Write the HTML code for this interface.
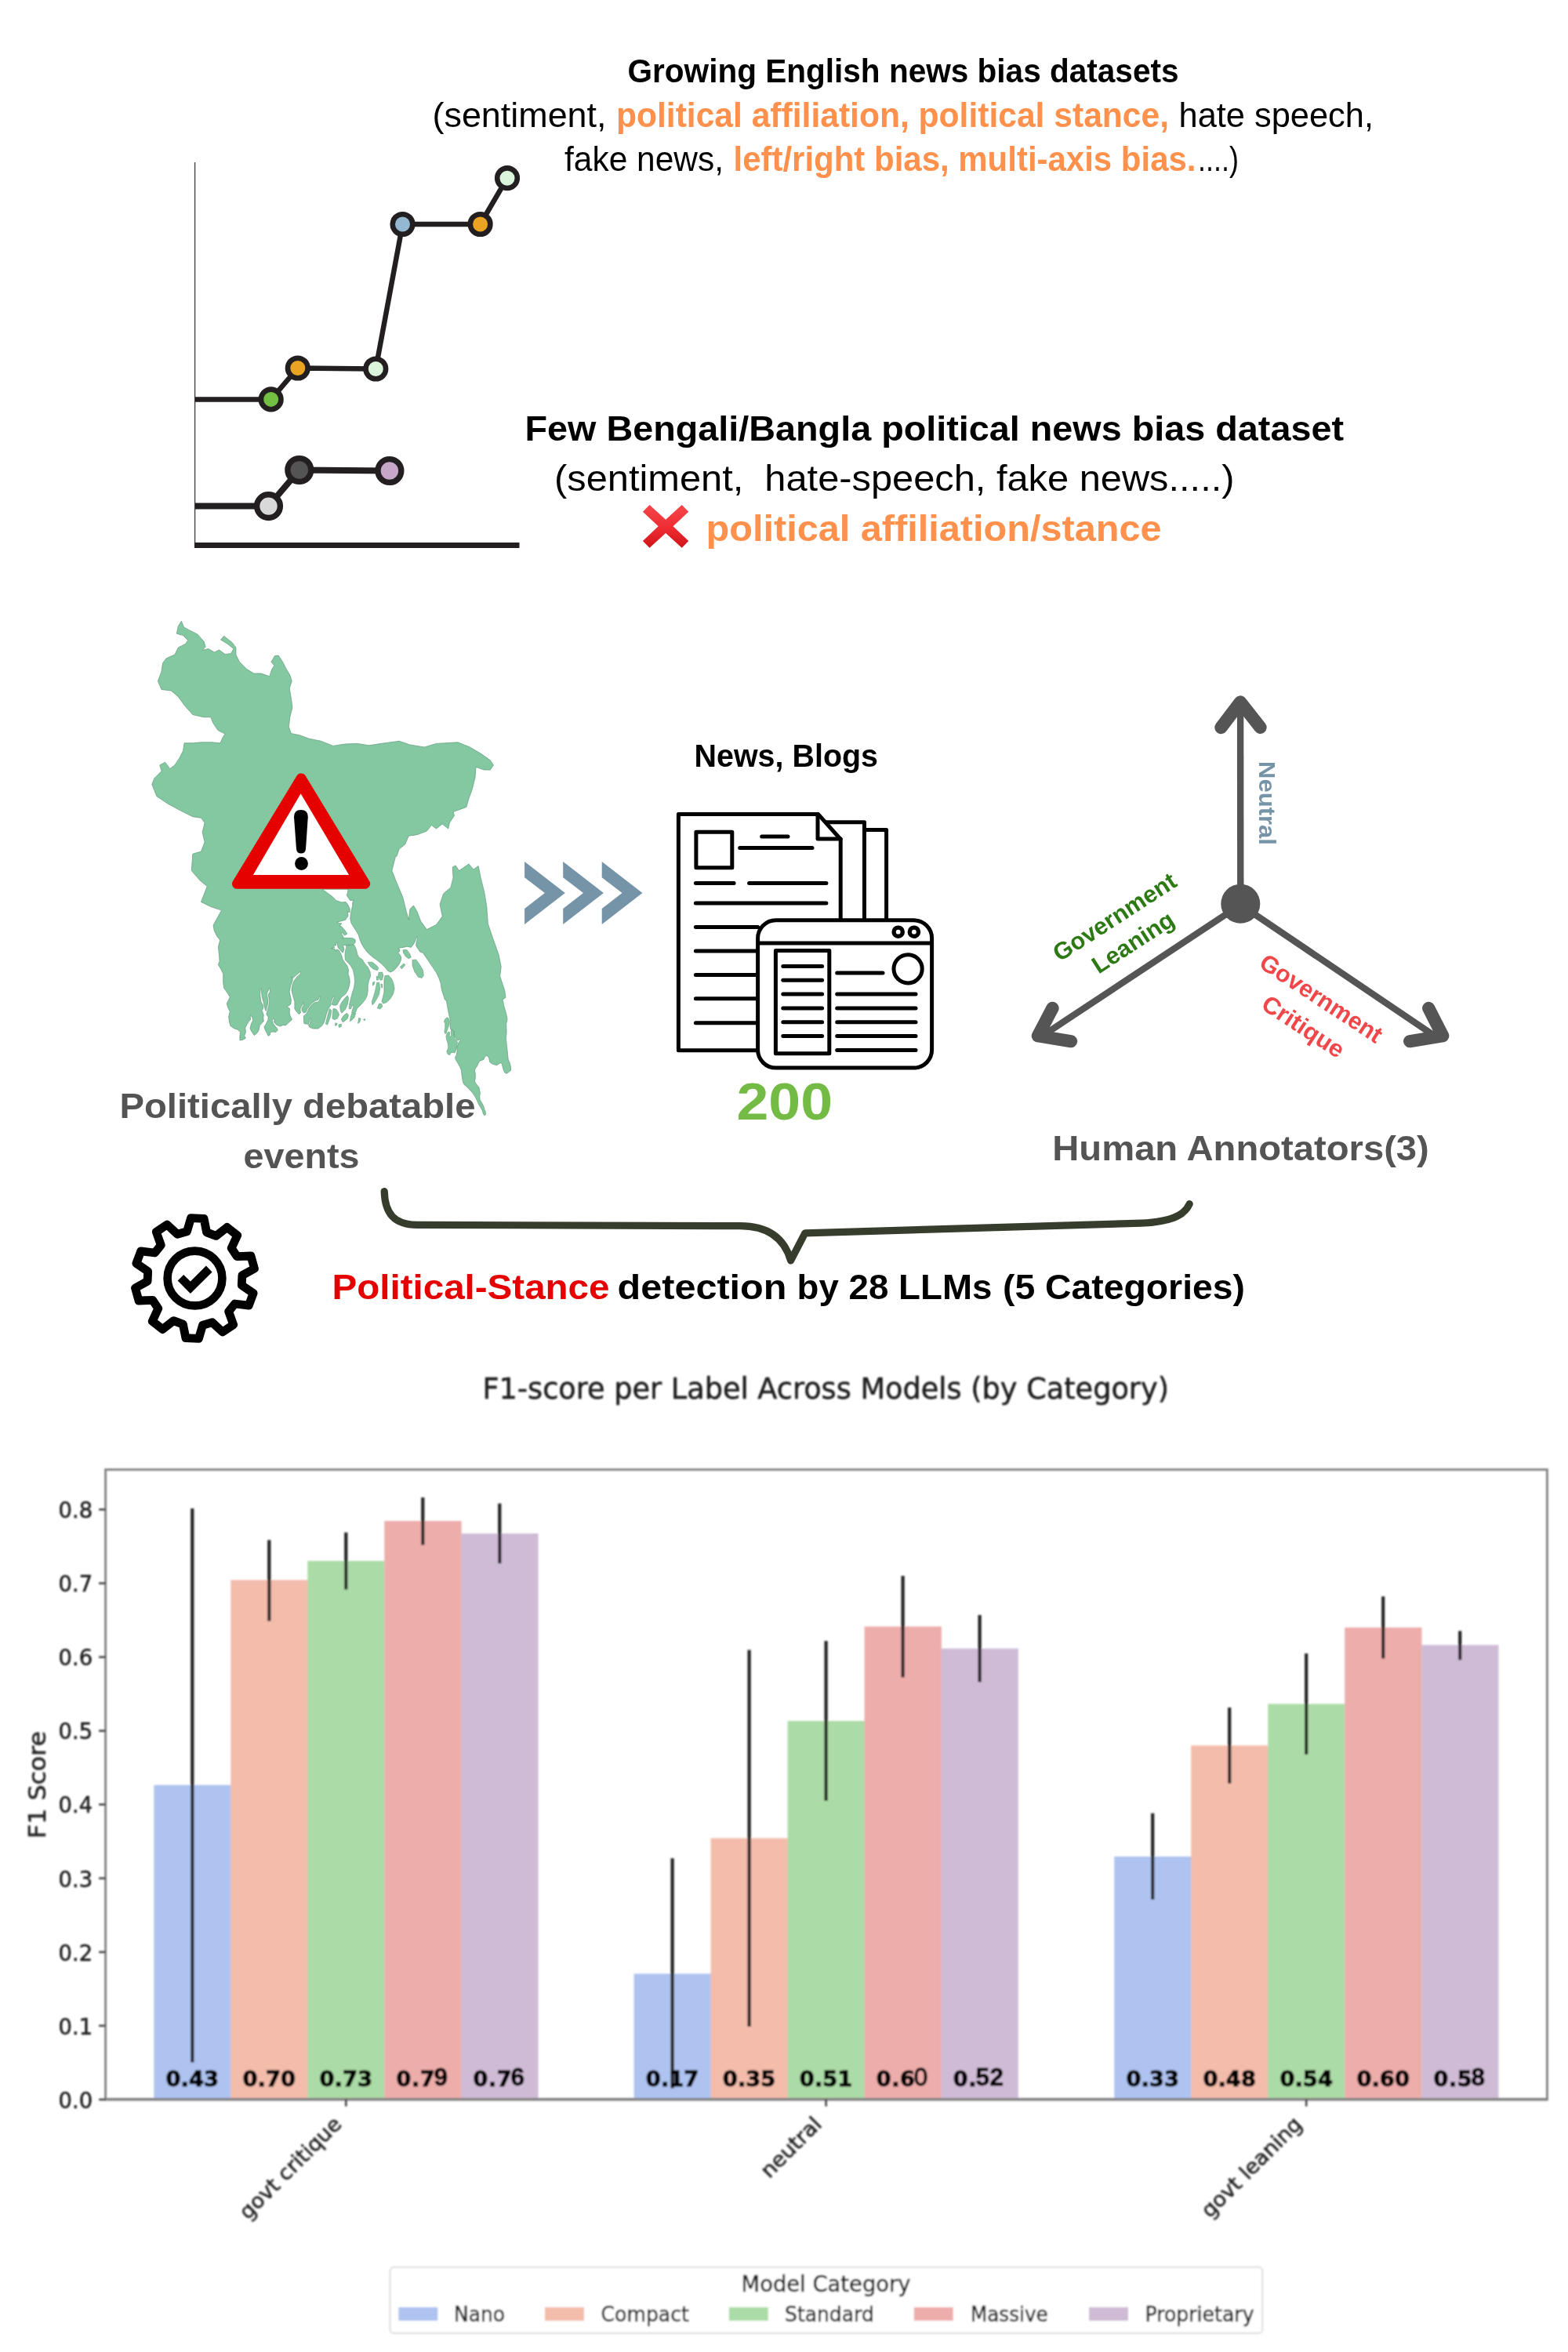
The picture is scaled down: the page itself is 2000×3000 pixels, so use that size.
<!DOCTYPE html>
<html lang="en"><head><meta charset="utf-8"><title>Political stance detection infographic</title>
<style>
html,body{margin:0;padding:0;background:#fff;}
body{width:2000px;height:3000px;overflow:hidden;}
svg{display:block;}
text{white-space:pre;}
</style></head><body>
<svg width="2000" height="3000" viewBox="0 0 2000 3000">
<rect width="2000" height="3000" fill="#ffffff"/>
<g opacity="0.999">
<g id="linechart">
<line x1="248.6" y1="207" x2="248.6" y2="698" stroke="#3a3a3a" stroke-width="1.3"/>
<line x1="248" y1="695.5" x2="662.5" y2="695.5" stroke="#231f20" stroke-width="7"/>
<polyline points="249,509.4 345.7,509.4 379.8,469.5 479.3,470.5 513.5,286 612.6,286 647,227.2" fill="none" stroke="#231f20" stroke-width="6.5" stroke-linejoin="round"/>
<circle cx="345.7" cy="509.4" r="12.8" fill="#72bf44" stroke="#231f20" stroke-width="6.6"/>
<circle cx="379.8" cy="469.5" r="12.8" fill="#eba421" stroke="#231f20" stroke-width="6.6"/>
<circle cx="479.3" cy="470.5" r="12.8" fill="#dbf5dd" stroke="#231f20" stroke-width="6.6"/>
<circle cx="513.5" cy="286" r="12.8" fill="#94b8d2" stroke="#231f20" stroke-width="6.6"/>
<circle cx="612.6" cy="286" r="12.8" fill="#eba421" stroke="#231f20" stroke-width="6.6"/>
<circle cx="647" cy="227.2" r="12.8" fill="#dbf5dd" stroke="#231f20" stroke-width="6.6"/>
<polyline points="249,645.6 342.5,645.6 381.8,599.5 496.9,600.5" fill="none" stroke="#231f20" stroke-width="8" stroke-linejoin="round"/>
<circle cx="342.5" cy="645.6" r="14.9" fill="#d9d9d9" stroke="#231f20" stroke-width="7.4"/>
<circle cx="381.8" cy="599.5" r="14.9" fill="#545454" stroke="#231f20" stroke-width="7.4"/>
<circle cx="496.9" cy="600.5" r="14.9" fill="#c6a6c9" stroke="#231f20" stroke-width="7.4"/>
</g>
<g id="toptext">
<text x="800.5" y="105" font-family='"Liberation Sans", sans-serif' font-size="42" font-weight="bold" fill="#000" text-anchor="start" textLength="703" lengthAdjust="spacingAndGlyphs" >Growing English news bias datasets</text>
<text y="161.5" font-family='"Liberation Sans", sans-serif' font-size="44" ><tspan x="551.5" font-weight="normal" fill="#000" textLength="222" lengthAdjust="spacingAndGlyphs">(sentiment,</tspan> <tspan x="786" font-weight="bold" fill="#ff914d" textLength="705" lengthAdjust="spacingAndGlyphs">political affiliation, political stance,</tspan> <tspan x="1503.5" font-weight="normal" fill="#000" textLength="248.5" lengthAdjust="spacingAndGlyphs">hate speech,</tspan></text>
<text y="217.5" font-family='"Liberation Sans", sans-serif' font-size="44" ><tspan x="720" font-weight="normal" fill="#000" textLength="203" lengthAdjust="spacingAndGlyphs">fake news,</tspan> <tspan x="935.5" font-weight="bold" fill="#ff914d" textLength="590" lengthAdjust="spacingAndGlyphs">left/right bias, multi-axis bias.</tspan><tspan x="1528" font-weight="normal" fill="#000" textLength="52" lengthAdjust="spacingAndGlyphs">....)</tspan></text>
<text x="669.5" y="562" font-family='"Liberation Sans", sans-serif' font-size="45" font-weight="bold" fill="#000" text-anchor="start" textLength="1044.5" lengthAdjust="spacingAndGlyphs" >Few Bengali/Bangla political news bias dataset</text>
<text x="707" y="626" font-family='"Liberation Sans", sans-serif' font-size="47" font-weight="normal" fill="#000" text-anchor="start" textLength="867.5" lengthAdjust="spacingAndGlyphs" >(sentiment,  hate-speech, fake news.....)</text>
<text x="900.5" y="690" font-family='"Liberation Sans", sans-serif' font-size="47" font-weight="bold" fill="#ff914d" text-anchor="start" textLength="581" lengthAdjust="spacingAndGlyphs" >political affiliation/stance</text>
<defs><linearGradient id="xg" x1="0" y1="0" x2="0" y2="1"><stop offset="0" stop-color="#f5474b"/><stop offset="0.55" stop-color="#ee2c32"/><stop offset="1" stop-color="#d01318"/></linearGradient></defs>
<g transform="translate(849.1,671.3)"><path d="M-29.2,-18.6 L-20.6,-27.4 L0,-8.6 L20.6,-27.4 L29.2,-18.6 L9.4,0 L29.2,18.6 L20.6,27.4 L0,8.6 L-20.6,27.4 L-29.2,18.6 L-9.4,0 Z" fill="url(#xg)"/></g>
</g>
<g id="map">
<path d="M231.4,792.2 L234.5,799.9 L242.8,804.5 L251.9,809.1 L260.2,818.3 L262.0,825.3 L258.1,829.6 L265.7,827.4 L273.4,832.0 L279.5,829.0 L287.1,834.5 L294.8,833.6 L297.9,827.4 L290.2,821.3 L281.6,816.1 L285.6,811.2 L296.3,819.8 L300.9,825.9 L300.9,835.1 L305.5,844.3 L314.7,853.5 L323.9,859.0 L333.1,859.0 L343.8,862.7 L346.8,853.5 L349.9,848.9 L345.9,844.3 L350.5,836.6 L355.1,836.0 L360.6,844.3 L365.2,853.5 L369.8,861.1 L372.2,868.8 L369.2,878.0 L371.3,890.2 L372.9,902.4 L369.8,914.7 L368.3,926.9 L371.3,935.5 L382.0,937.7 L394.3,942.2 L409.6,945.3 L424.9,951.4 L440.2,949.0 L455.5,948.4 L470.8,950.8 L486.1,948.4 L509.1,945.3 L522.9,949.9 L541.2,953.0 L556.5,948.4 L584.1,946.8 L599.4,953.0 L614.7,962.1 L625.4,969.8 L629.4,975.9 L625.4,982.0 L617.8,982.0 L607.0,978.4 L606.1,991.2 L602.4,1006.5 L597.9,1018.8 L594.8,1029.5 L578.0,1035.6 L579.5,1040.2 L573.4,1049.4 L571.8,1057.0 L564.2,1050.9 L556.5,1057.0 L550.4,1052.4 L544.3,1060.1 L532.0,1064.7 L521.3,1066.2 L516.7,1076.9 L509.1,1083.1 L506.0,1092.2 L504.5,1092.2 L499.9,1110.6 L506.0,1125.9 L513.7,1144.3 L518.3,1162.7 L521.3,1173.4 L522.9,1159.6 L527.4,1155.0 L532.0,1162.7 L536.6,1174.9 L544.3,1185.6 L556.5,1179.5 L564.2,1168.8 L561.1,1153.5 L565.7,1139.7 L574.9,1132.0 L578.0,1119.8 L577.3,1106.0 L581.0,1103.9 L585.6,1110.6 L597.9,1102.0 L604.0,1109.1 L610.1,1104.5 L613.2,1119.8 L617.8,1138.2 L620.8,1156.5 L622.3,1178.0 L628.5,1196.3 L636.1,1217.8 L639.2,1233.1 L637.7,1245.3 L643.8,1263.7 L644.9,1272.4 L641.1,1274.9 L642.8,1283.2 L645.7,1293.2 L647.0,1299.8 L645.7,1306.4 L646.1,1316.4 L645.3,1324.7 L646.5,1334.6 L647.4,1342.9 L648.2,1351.2 L650.3,1356.2 L651.5,1361.1 L651.5,1365.3 L648.6,1367.8 L645.7,1369.4 L643.6,1367.8 L641.6,1362.8 L640.3,1357.0 L638.7,1355.8 L636.2,1357.0 L633.7,1358.7 L630.4,1357.8 L627.1,1356.6 L624.6,1354.5 L623.7,1349.5 L622.1,1347.1 L620.0,1346.6 L617.9,1348.7 L617.1,1351.2 L614.6,1352.4 L611.7,1353.3 L610.1,1356.2 L608.8,1359.5 L606.3,1362.8 L605.5,1366.1 L606.3,1370.3 L606.3,1375.2 L605.5,1378.6 L606.3,1381.0 L608.8,1384.4 L610.9,1386.8 L611.7,1391.0 L612.5,1394.3 L611.7,1398.5 L612.1,1402.6 L614.6,1406.7 L616.7,1410.9 L618.3,1415.9 L619.6,1419.2 L619.2,1422.1 L617.5,1422.5 L616.3,1420.0 L615.0,1415.9 L613.0,1412.6 L610.5,1408.4 L608.4,1403.4 L606.3,1399.3 L603.0,1394.3 L599.3,1390.2 L595.5,1386.0 L592.2,1383.5 L590.6,1380.2 L589.7,1376.1 L588.9,1370.3 L588.5,1365.3 L586.4,1360.3 L583.1,1354.5 L581.0,1351.2 L580.6,1348.7 L582.3,1345.4 L583.1,1340.4 L582.7,1336.3 L583.9,1333.0 L585.2,1329.6 L587.3,1326.7 L586.4,1325.9 L583.9,1327.2 L581.9,1325.5 L579.8,1321.4 L579.0,1316.4 L578.1,1314.3 L574.8,1313.1 L574.0,1309.7 L574.8,1303.1 L573.2,1296.5 L571.5,1288.2 L569.4,1276.6 L570.0,1276.7 L567.4,1275.0 L565.6,1269.2 L563.3,1262.3 L562.2,1254.3 L559.9,1247.4 L556.5,1240.5 L551.9,1233.6 L547.3,1226.8 L542.7,1219.9 L539.2,1215.3 L535.8,1214.1 L533.5,1210.7 L530.6,1206.1 L531.2,1201.5 L532.9,1196.3 L532.3,1194.6 L530.6,1198.1 L527.8,1203.8 L524.3,1208.4 L519.7,1207.2 L514.0,1208.4 L508.8,1209.0 L510.0,1213.0 L507.7,1215.3 L510.0,1217.6 L511.7,1221.0 L511.1,1225.6 L508.8,1230.2 L505.4,1234.8 L501.9,1238.2 L497.9,1240.0 L494.5,1238.2 L491.0,1233.6 L486.4,1229.1 L480.7,1224.5 L474.9,1220.4 L469.2,1215.3 L464.6,1209.5 L461.2,1203.8 L458.9,1198.1 L457.2,1192.3 L454.3,1187.2 L450.8,1182.0 L448.0,1177.4 L446.8,1171.7 L447.4,1165.9 L448.5,1160.2 L449.7,1155.6 L449.7,1151.0 L451.4,1148.1 L446.8,1148.7 L444.0,1144.7 L442.2,1141.8 L443.4,1138.9 L444.0,1134.3 L411.2,1134.3 L417.6,1138.9 L424.4,1144.1 L429.0,1148.7 L435.9,1151.0 L441.1,1150.4 L444.0,1154.4 L446.2,1159.6 L446.2,1163.6 L443.4,1163.0 L444.0,1168.2 L440.5,1173.4 L438.2,1174.0 L434.8,1174.9 L429.6,1176.2 L432.5,1177.4 L435.9,1178.0 L433.0,1181.4 L435.3,1181.4 L439.4,1186.0 L442.8,1191.2 L439.4,1192.9 L436.5,1190.0 L434.8,1190.6 L437.1,1193.5 L438.2,1195.8 L436.5,1196.9 L441.7,1196.3 L449.7,1196.7 L453.1,1198.6 L453.1,1202.1 L450.8,1204.9 L444.0,1205.5 L437.6,1205.5 L438.8,1210.7 L437.1,1215.3 L434.2,1211.8 L431.3,1209.0 L429.6,1201.5 L428.5,1202.7 L428.5,1206.1 L425.6,1205.5 L426.5,1209.0 L422.1,1209.5 L427.3,1210.7 L427.9,1213.6 L429.6,1210.7 L432.5,1212.4 L435.3,1217.6 L437.1,1223.9 L439.4,1227.3 L442.8,1231.9 L444.5,1237.1 L444.0,1242.3 L445.7,1247.4 L446.2,1253.2 L445.1,1258.9 L443.4,1263.5 L440.5,1268.1 L436.5,1271.0 L434.2,1273.8 L431.3,1279.0 L429.6,1281.9 L425.9,1282.2 L423.0,1281.0 L424.2,1277.6 L426.5,1271.8 L425.9,1270.7 L424.2,1273.0 L421.9,1278.7 L421.9,1282.2 L419.0,1286.2 L416.7,1291.9 L415.0,1298.2 L413.3,1304.0 L410.4,1308.6 L405.8,1312.0 L399.5,1312.0 L394.9,1310.3 L393.2,1307.4 L395.5,1305.1 L396.8,1299.4 L396.0,1298.2 L394.9,1301.7 L393.2,1306.3 L388.0,1305.7 L387.4,1300.5 L387.4,1295.9 L390.9,1293.1 L392.6,1289.6 L394.3,1285.6 L397.8,1281.6 L401.8,1278.5 L405.2,1278.2 L407.5,1275.9 L408.7,1271.3 L407.5,1271.3 L405.8,1275.3 L402.3,1276.4 L398.9,1278.7 L394.9,1282.7 L392.0,1286.8 L390.3,1290.8 L387.4,1291.9 L385.1,1289.1 L385.1,1285.6 L387.4,1282.2 L388.0,1278.7 L386.8,1278.2 L386.3,1281.0 L384.6,1283.3 L382.8,1286.8 L383.4,1291.9 L381.1,1293.6 L378.2,1290.2 L375.9,1286.8 L375.9,1277.6 L373.6,1269.5 L371.9,1262.7 L373.1,1255.8 L375.4,1250.6 L379.4,1245.4 L383.4,1241.4 L383.8,1239.1 L380.5,1241.4 L377.1,1244.3 L373.6,1247.7 L371.4,1246.0 L373.1,1248.3 L373.1,1251.2 L370.8,1256.9 L369.1,1264.9 L371.4,1275.3 L370.8,1281.0 L368.5,1282.7 L365.6,1283.3 L367.3,1284.5 L369.6,1286.8 L369.1,1291.4 L370.2,1295.9 L372.5,1300.5 L367.9,1304.6 L364.5,1308.0 L361.0,1307.4 L357.6,1309.1 L353.0,1307.4 L349.5,1304.0 L350.1,1300.5 L348.4,1299.4 L347.2,1301.7 L348.4,1305.7 L350.7,1308.6 L353.6,1312.0 L354.1,1314.3 L351.8,1316.6 L348.4,1316.0 L344.9,1316.6 L344.4,1320.1 L342.1,1321.2 L340.4,1317.8 L338.1,1313.2 L336.9,1309.7 L339.2,1306.3 L340.4,1304.0 L342.1,1300.5 L342.1,1297.1 L339.8,1293.6 L340.9,1290.2 L342.7,1283.3 L343.8,1276.4 L342.1,1269.0 L344.4,1264.9 L344.7,1260.4 L343.8,1260.4 L340.9,1266.1 L340.4,1269.5 L342.1,1276.4 L340.9,1283.3 L339.2,1289.6 L337.5,1285.6 L336.3,1278.7 L334.0,1270.7 L333.5,1260.9 L332.3,1260.4 L331.7,1269.5 L332.9,1277.6 L335.8,1283.3 L335.2,1287.3 L334.0,1288.5 L336.3,1294.8 L335.8,1298.2 L336.3,1302.8 L333.5,1305.1 L331.2,1308.6 L330.0,1314.3 L327.7,1317.8 L324.3,1320.6 L321.4,1316.6 L319.1,1312.0 L320.3,1306.3 L322.6,1301.7 L322.0,1298.2 L319.7,1294.8 L319.1,1297.1 L319.7,1300.5 L317.4,1302.8 L315.1,1306.3 L312.8,1310.9 L313.4,1316.6 L311.7,1321.2 L313.4,1324.1 L309.4,1326.4 L305.9,1326.9 L305.9,1322.3 L306.5,1316.6 L303.0,1313.2 L299.0,1312.0 L293.9,1308.6 L292.7,1304.0 L291.6,1297.1 L293.3,1290.2 L290.4,1284.5 L289.3,1279.9 L291.6,1275.3 L293.3,1271.8 L289.8,1266.1 L285.8,1260.4 L284.7,1253.5 L284.7,1242.0 L281.8,1236.2 L278.4,1230.5 L280.1,1225.9 L279.5,1217.9 L278.4,1207.6 L280.7,1198.9 L277.2,1194.9 L273.2,1186.9 L272.1,1180.0 L282.6,1161.1 L268.8,1156.5 L256.5,1150.4 L264.2,1130.5 L255.0,1122.9 L244.3,1110.6 L245.8,1089.2 L256.5,1086.1 L261.1,1073.9 L258.1,1061.6 L261.1,1049.4 L256.5,1043.3 L245.8,1041.7 L230.5,1034.1 L213.7,1024.9 L199.9,1015.7 L193.8,1000.4 L196.8,992.8 L206.0,983.6 L203.9,975.9 L210.6,972.2 L216.7,980.5 L222.9,975.9 L229.0,966.7 L233.6,957.6 L235.1,947.8 L245.8,947.8 L256.5,946.8 L270.3,946.8 L281.0,947.8 L284.1,940.7 L287.1,936.1 L278.0,931.5 L271.8,922.3 L268.8,914.7 L259.6,914.7 L245.8,911.6 L235.1,899.4 L227.4,888.7 L218.3,881.0 L206.0,879.5 L201.4,868.8 L206.0,856.5 L207.6,845.8 L212.1,839.7 L222.9,835.1 L227.4,825.9 L236.6,821.3 L239.7,816.7 L233.6,810.6 L225.3,808.2 L227.4,798.4 Z" fill="#83c8a1" stroke="#5d9a7a" stroke-width="0.7" stroke-linejoin="round"/>
<path d="M452.0,1205.5 L454.3,1210.7 L456.0,1217.6 L457.7,1221.0 L462.3,1223.9 L465.2,1229.1 L469.2,1233.6 L472.1,1239.4 L472.7,1245.1 L470.4,1250.9 L469.2,1257.8 L469.2,1264.6 L468.1,1270.4 L465.8,1275.0 L462.3,1279.6 L458.9,1283.0 L455.4,1286.5 L453.7,1291.0 L452.0,1292.2 L448.5,1292.2 L449.7,1287.6 L451.4,1282.4 L449.1,1283.0 L447.4,1287.0 L445.1,1286.5 L445.7,1280.7 L447.4,1273.8 L449.1,1266.9 L451.4,1260.1 L452.6,1252.0 L452.0,1245.1 L450.3,1237.1 L447.4,1231.9 L444.0,1227.9 L440.5,1224.5 L439.9,1218.7 L440.5,1213.0 L441.7,1208.4 L441.7,1205.9 Z" fill="#83c8a1" stroke="#5d9a7a" stroke-width="0.6" stroke-linejoin="round"/>
<path d="M443.4,1269.8 L444.5,1273.8 L443.4,1280.7 L440.5,1287.6 L435.9,1292.2 L434.2,1288.8 L433.6,1283.0 L435.9,1278.4 L439.4,1273.8 Z" fill="#83c8a1" stroke="#5d9a7a" stroke-width="0.6" stroke-linejoin="round"/>
<path d="M425.0,1286.5 L428.5,1287.0 L431.3,1291.0 L432.5,1294.5 L430.2,1299.1 L426.7,1300.8 L423.9,1299.1 L424.4,1293.3 Z" fill="#83c8a1" stroke="#5d9a7a" stroke-width="0.6" stroke-linejoin="round"/>
<path d="M420.4,1286.5 L422.7,1288.8 L422.1,1294.5 L419.8,1301.4 L417.6,1307.1 L415.3,1306.0 L417.0,1299.1 L418.7,1292.2 Z" fill="#83c8a1" stroke="#5d9a7a" stroke-width="0.6" stroke-linejoin="round"/>
<path d="M442.2,1292.2 L444.5,1294.5 L443.4,1299.1 L439.4,1302.5 L437.1,1303.7 L435.3,1300.2 L438.2,1295.6 Z" fill="#83c8a1" stroke="#5d9a7a" stroke-width="0.6" stroke-linejoin="round"/>
<path d="M448.5,1293.3 L453.7,1292.2 L452.0,1297.9 L448.5,1301.4 L446.2,1302.5 L447.4,1296.8 Z" fill="#83c8a1" stroke="#5d9a7a" stroke-width="0.6" stroke-linejoin="round"/>
<path d="M457.7,1298.5 L460.0,1299.1 L458.9,1303.7 L456.6,1305.4 Z" fill="#83c8a1" stroke="#5d9a7a" stroke-width="0.6" stroke-linejoin="round"/>
<path d="M427.9,1304.8 L430.2,1305.4 L429.0,1308.3 L427.3,1307.7 Z" fill="#83c8a1" stroke="#5d9a7a" stroke-width="0.6" stroke-linejoin="round"/>
<path d="M431.9,1307.1 L435.3,1306.0 L435.3,1309.4 L432.5,1310.6 Z" fill="#83c8a1" stroke="#5d9a7a" stroke-width="0.6" stroke-linejoin="round"/>
<path d="M463.5,1300.2 L465.8,1299.7 L465.2,1302.0 Z" fill="#83c8a1" stroke="#5d9a7a" stroke-width="0.6" stroke-linejoin="round"/>
<path d="M469.2,1227.3 L474.9,1227.3 L479.5,1230.8 L483.0,1234.8 L481.3,1237.7 L476.1,1235.9 L472.1,1232.5 Z" fill="#83c8a1" stroke="#5d9a7a" stroke-width="0.6" stroke-linejoin="round"/>
<path d="M483.0,1240.5 L487.6,1240.0 L488.7,1244.0 L487.6,1249.7 L485.3,1250.3 L482.4,1245.7 Z" fill="#83c8a1" stroke="#5d9a7a" stroke-width="0.6" stroke-linejoin="round"/>
<path d="M480.1,1245.7 L481.8,1245.1 L482.8,1249.7 L480.7,1250.3 Z" fill="#83c8a1" stroke="#5d9a7a" stroke-width="0.6" stroke-linejoin="round"/>
<path d="M475.5,1253.2 L477.8,1252.0 L477.2,1255.5 L475.5,1257.2 Z" fill="#83c8a1" stroke="#5d9a7a" stroke-width="0.6" stroke-linejoin="round"/>
<path d="M485.9,1254.9 L487.6,1255.5 L487.6,1260.1 L486.4,1259.5 Z" fill="#83c8a1" stroke="#5d9a7a" stroke-width="0.6" stroke-linejoin="round"/>
<path d="M480.7,1253.2 L483.6,1253.2 L484.7,1260.1 L483.6,1268.1 L480.7,1273.8 L477.2,1279.6 L474.9,1281.9 L474.4,1277.3 L476.7,1270.4 L479.0,1262.3 Z" fill="#83c8a1" stroke="#5d9a7a" stroke-width="0.6" stroke-linejoin="round"/>
<path d="M491.0,1244.6 L495.6,1244.0 L499.6,1248.6 L501.9,1254.3 L503.1,1261.2 L501.4,1268.1 L497.9,1273.8 L493.3,1278.4 L488.7,1280.1 L487.0,1277.3 L488.2,1272.7 L489.9,1265.8 L489.9,1257.8 L489.9,1249.7 Z" fill="#83c8a1" stroke="#5d9a7a" stroke-width="0.6" stroke-linejoin="round"/>
<path d="M483.6,1280.1 L487.0,1280.7 L487.6,1284.2 L484.7,1287.0 L481.3,1285.9 Z" fill="#83c8a1" stroke="#5d9a7a" stroke-width="0.6" stroke-linejoin="round"/>
<path d="M514.0,1211.8 L518.6,1211.3 L522.6,1216.4 L524.3,1221.0 L521.4,1222.7 L517.4,1219.9 L514.6,1215.3 Z" fill="#83c8a1" stroke="#5d9a7a" stroke-width="0.6" stroke-linejoin="round"/>
<path d="M526.0,1224.5 L530.6,1223.9 L535.2,1230.2 L539.2,1237.1 L540.4,1244.0 L538.1,1247.4 L533.5,1246.3 L528.9,1239.4 L526.0,1231.4 Z" fill="#83c8a1" stroke="#5d9a7a" stroke-width="0.6" stroke-linejoin="round"/>
<path d="M510.5,1233.1 L515.1,1229.1 L516.8,1230.8 L512.3,1235.9 Z" fill="#83c8a1" stroke="#5d9a7a" stroke-width="0.6" stroke-linejoin="round"/>
<path d="M570.3,1297.7 L571.9,1298.6 L573.6,1302.3 L573.2,1306.4 L571.5,1310.6 L570.3,1314.7 L569.0,1318.0 L567.8,1318.5 L566.9,1316.4 L567.8,1310.6 L567.8,1305.6 L566.4,1303.1 L567.8,1299.8 Z" fill="#83c8a1" stroke="#5d9a7a" stroke-width="0.6" stroke-linejoin="round"/>
<path d="M571.5,1316.4 L573.6,1316.4 L573.2,1322.2 L575.7,1321.8 L575.2,1314.7 L576.9,1313.9 L578.6,1315.1 L579.0,1319.7 L579.8,1324.7 L582.3,1327.2 L583.5,1329.6 L582.7,1333.8 L581.5,1339.6 L580.2,1342.9 L577.7,1342.5 L574.8,1342.9 L573.6,1345.8 L571.1,1344.6 L569.8,1341.2 L571.1,1338.3 L571.9,1336.3 L571.1,1330.5 L569.4,1325.5 L569.0,1321.4 L570.3,1318.0 Z" fill="#83c8a1" stroke="#5d9a7a" stroke-width="0.6" stroke-linejoin="round"/>
<path d="M384.1,992.9 L465.7,1127.3 L302.5,1127.3 Z" fill="#e60000" stroke="#e60000" stroke-width="13" stroke-linejoin="round"/>
<path d="M383.6,1012.2 L445.1,1116 L322.9,1116 Z" fill="#ffffff"/>
<path d="M375,1042 Q375,1033 383.9,1033 Q392.8,1033 392.8,1042 L390,1083 Q389.5,1088.6 384,1088.6 Q378.5,1088.6 378,1083 Z" fill="#000"/>
<circle cx="384.5" cy="1101.5" r="8.4" fill="#000"/>
</g>
<g id="chevrons" fill="#7694a8">
<polygon points="669.1,1099.1 720.8,1139.1 669.1,1179.1 669.1,1159.1 694.9,1139.1 669.1,1119.2"/>
<polygon points="718.2,1099.1 769.9,1139.1 718.2,1179.1 718.2,1159.1 744.0,1139.1 718.2,1119.2"/>
<polygon points="767.7,1099.1 819.4,1139.1 767.7,1179.1 767.7,1159.1 793.5,1139.1 767.7,1119.2"/>
</g>
<text x="885.5" y="978.3" font-family='"Liberation Sans", sans-serif' font-size="40.5" font-weight="bold" fill="#000" text-anchor="start" textLength="234.5" lengthAdjust="spacingAndGlyphs" >News, Blogs</text>
<g id="docs" fill="none" stroke="#000" stroke-width="5" stroke-linecap="round" stroke-linejoin="round">
<path d="M1053.2,1048.7 H1102.5 V1174" />
<path d="M1102.5,1058.6 H1130.6 V1174" />
<path d="M966.6,1339.8 H865.4 V1038.4 H1043.5 L1072.2,1070.5 V1174" fill="#fff"/>
<path d="M1043,1038.4 V1070 H1072.2"/>
<rect x="887.9" y="1061.3" width="45.9" height="45.5"/>
<line x1="971.7" y1="1067.1" x2="1005" y2="1067.1"/>
<line x1="943.7" y1="1081.5" x2="1036" y2="1081.5"/>
<line x1="887.4" y1="1126.5" x2="936.1" y2="1126.5"/>
<line x1="955.6" y1="1126.5" x2="1053.9" y2="1126.5"/>
<line x1="887.4" y1="1152" x2="1053.9" y2="1152"/>
<line x1="887.4" y1="1182.6" x2="966.6" y2="1182.6"/>
<line x1="887.4" y1="1212.9" x2="966.6" y2="1212.9"/>
<line x1="887.4" y1="1243.4" x2="966.6" y2="1243.4"/>
<line x1="887.4" y1="1273.7" x2="966.6" y2="1273.7"/>
<line x1="887.4" y1="1304.7" x2="966.6" y2="1304.7"/>
<rect x="966.6" y="1173.8" width="222" height="188.3" rx="23" ry="23" fill="#fff"/>
<line x1="966.6" y1="1203" x2="1188.6" y2="1203" stroke-linecap="butt"/>
<circle cx="1145.7" cy="1188.7" r="5.6" stroke-width="5.4"/>
<circle cx="1165.9" cy="1188.7" r="5.6" stroke-width="5.4"/>
<rect x="989.4" y="1212.4" width="68.4" height="131.3"/>
<line x1="998.8" y1="1232.4" x2="1048.6" y2="1232.4"/>
<line x1="998.8" y1="1250.3" x2="1048.6" y2="1250.3"/>
<line x1="998.8" y1="1268" x2="1048.6" y2="1268"/>
<line x1="998.8" y1="1285.9" x2="1048.6" y2="1285.9"/>
<line x1="998.8" y1="1303.8" x2="1048.6" y2="1303.8"/>
<line x1="998.8" y1="1321.5" x2="1048.6" y2="1321.5"/>
<circle cx="1158.1" cy="1235.8" r="18.1"/>
<line x1="1067.7" y1="1240.9" x2="1126" y2="1240.9"/>
<line x1="1067.7" y1="1268" x2="1168" y2="1268"/>
<line x1="1067.7" y1="1285.9" x2="1168" y2="1285.9"/>
<line x1="1067.7" y1="1303.8" x2="1168" y2="1303.8"/>
<line x1="1067.7" y1="1321.5" x2="1168" y2="1321.5"/>
<line x1="1067.7" y1="1339.4" x2="1168" y2="1339.4"/>
</g>
<text x="939.5" y="1427.8" font-family='"Liberation Sans", sans-serif' font-size="66.5" font-weight="bold" fill="#73bb44" text-anchor="start" textLength="122.5" lengthAdjust="spacingAndGlyphs" >200</text>
<g id="axes" stroke="#555555" fill="none" stroke-linecap="round" stroke-linejoin="round">
<line x1="1582.3" y1="1152.7" x2="1582.1" y2="900" stroke-width="8.4" stroke-linecap="butt"/>
<polyline points="1557.4,928 1582.1,895.5 1607.5,927.8" stroke-width="16.3"/>
<line x1="1582.3" y1="1153.9" x2="1336" y2="1316.9" stroke-width="8.4" stroke-linecap="butt"/>
<polyline points="1342.5,1285.9 1323.9,1321.3 1366,1328.2" stroke-width="16.3"/>
<line x1="1582.3" y1="1153.9" x2="1828" y2="1320" stroke-width="8.4" stroke-linecap="butt"/>
<polyline points="1822.2,1285.9 1840.2,1321.3 1798.2,1328.2" stroke-width="16.3"/>
<circle cx="1582.3" cy="1152.7" r="25" fill="#555555" stroke="none"/>
</g>
<text transform="translate(1605.5,1024.5) rotate(90)" x="0" y="0" font-family='"Liberation Sans", sans-serif' font-size="30" font-weight="bold" fill="#7694a8" text-anchor="middle" textLength="107" lengthAdjust="spacingAndGlyphs">Neutral</text>
<text transform="translate(1427.3,1178.3) rotate(-32.9)" x="0" y="0" font-family='"Liberation Sans", sans-serif' font-size="30.5" font-weight="bold" fill="#2d7a14" text-anchor="middle" textLength="180.5" lengthAdjust="spacingAndGlyphs">Government</text>
<text transform="translate(1450.7,1210.6) rotate(-32.9)" x="0" y="0" font-family='"Liberation Sans", sans-serif' font-size="30.5" font-weight="bold" fill="#2d7a14" text-anchor="middle" textLength="118" lengthAdjust="spacingAndGlyphs">Leaning</text>
<text transform="translate(1679.5,1282) rotate(33.2)" x="0" y="0" font-family='"Liberation Sans", sans-serif' font-size="30.5" font-weight="bold" fill="#f0484a" text-anchor="middle" textLength="180" lengthAdjust="spacingAndGlyphs">Government</text>
<text transform="translate(1656.7,1318.1) rotate(33.2)" x="0" y="0" font-family='"Liberation Sans", sans-serif' font-size="30.5" font-weight="bold" fill="#f0484a" text-anchor="middle" textLength="119" lengthAdjust="spacingAndGlyphs">Critique</text>
<text x="152.5" y="1425.5" font-family='"Liberation Sans", sans-serif' font-size="45" font-weight="bold" fill="#545454" text-anchor="start" textLength="454" lengthAdjust="spacingAndGlyphs" >Politically debatable</text>
<text x="310.5" y="1490.4" font-family='"Liberation Sans", sans-serif' font-size="45" font-weight="bold" fill="#545454" text-anchor="start" textLength="148" lengthAdjust="spacingAndGlyphs" >events</text>
<text x="1342.3" y="1480.4" font-family='"Liberation Sans", sans-serif' font-size="45" font-weight="bold" fill="#545454" text-anchor="start" textLength="480.5" lengthAdjust="spacingAndGlyphs" >Human Annotators(3)</text>
<path d="M490.2,1519.5 C491,1548 503,1562.3 532,1562.3 L944,1563.7 C978,1563.7 1000,1578 1008.6,1607.9 L1026.8,1572.8 L1456,1560.2 C1490,1558.5 1510,1552 1517.2,1535.6" fill="none" stroke="#373d2d" stroke-width="9.2" stroke-linecap="round" stroke-linejoin="round"/>
<g id="gear" fill="none" stroke="#000" stroke-linejoin="round">
<path d="M238.5,1570.8 L243.5,1553.7 L260.1,1554.4 L263.6,1571.9 L275.5,1576.4 L289.6,1565.4 L302.7,1575.8 L295.2,1592.0 L302.2,1602.6 L320.0,1602.0 L324.5,1618.1 L308.9,1626.8 L308.3,1639.4 L323.1,1649.5 L317.3,1665.1 L299.5,1663.0 L291.7,1672.9 L297.7,1689.7 L283.8,1698.9 L270.7,1686.8 L258.5,1690.2 L253.5,1707.3 L236.9,1706.6 L233.4,1689.1 L221.5,1684.6 L207.4,1695.6 L194.3,1685.2 L201.8,1669.0 L194.8,1658.4 L177.0,1659.0 L172.5,1642.9 L188.1,1634.2 L188.7,1621.6 L173.9,1611.5 L179.7,1595.9 L197.5,1598.0 L205.3,1588.1 L199.3,1571.3 L213.2,1562.1 L226.3,1574.2 Z" stroke-width="10.8"/>
<circle cx="248.5" cy="1630.5" r="34.9" stroke-width="10.6"/>
<polygon points="226.6,1633.6 234.2,1625.9 242.9,1634.6 262.9,1614.6 270.6,1622.5 242.9,1649.9" fill="#000" stroke="none"/>
</g>
<text y="1656.5" font-family='"Liberation Sans", sans-serif' font-size="45" ><tspan x="423.5" font-weight="bold" fill="#e60000" textLength="354" lengthAdjust="spacingAndGlyphs">Political-Stance</tspan> <tspan x="787.5" font-weight="bold" fill="#000" textLength="216" lengthAdjust="spacingAndGlyphs">detection</tspan> <tspan x="1016.5" font-weight="bold" fill="#000" textLength="249" lengthAdjust="spacingAndGlyphs">by 28 LLMs</tspan> <tspan x="1279" font-weight="bold" fill="#000" textLength="309" lengthAdjust="spacingAndGlyphs">(5 Categories)</tspan></text>
<defs><filter id="soft" x="-2%" y="-2%" width="104%" height="104%"><feGaussianBlur stdDeviation="0.8"/></filter></defs>
<g id="chart" filter="url(#soft)" stroke="#1e1e1e" stroke-width="0.55">
<text x="1053.2" y="1783.8" font-family='"DejaVu Sans", "Liberation Sans", sans-serif' font-size="37" font-weight="normal" fill="#1e1e1e" text-anchor="middle" textLength="875.5" lengthAdjust="spacingAndGlyphs" >F1-score per Label Across Models (by Category)</text>
<rect x="196.3" y="2276.8" width="98.3" height="400.9" fill="#aec3f0" stroke="none"/>
<rect x="294.3" y="2015.3" width="98.3" height="662.4" fill="#f3bcab" stroke="none"/>
<rect x="392.3" y="1991" width="98.3" height="686.7" fill="#abdba6" stroke="none"/>
<rect x="490.3" y="1940" width="98.3" height="737.7" fill="#edadab" stroke="none"/>
<rect x="588.3" y="1956" width="98.3" height="721.7" fill="#cfbbd6" stroke="none"/>
<rect x="808.6" y="2517.5" width="98.3" height="160.2" fill="#aec3f0" stroke="none"/>
<rect x="906.6" y="2344.6" width="98.3" height="333.1" fill="#f3bcab" stroke="none"/>
<rect x="1004.6" y="2195.1" width="98.3" height="482.6" fill="#abdba6" stroke="none"/>
<rect x="1102.6" y="2074.6" width="98.3" height="603.1" fill="#edadab" stroke="none"/>
<rect x="1200.6" y="2102.7" width="98.3" height="575.0" fill="#cfbbd6" stroke="none"/>
<rect x="1421.2" y="2368" width="98.3" height="309.7" fill="#aec3f0" stroke="none"/>
<rect x="1519.2" y="2226.4" width="98.3" height="451.3" fill="#f3bcab" stroke="none"/>
<rect x="1617.2" y="2173.4" width="98.3" height="504.3" fill="#abdba6" stroke="none"/>
<rect x="1715.2" y="2075.9" width="98.3" height="601.8" fill="#edadab" stroke="none"/>
<rect x="1813.2" y="2098.2" width="98.3" height="579.5" fill="#cfbbd6" stroke="none"/>
<line x1="245.3" y1="1924" x2="245.3" y2="2630.4" stroke="#222" stroke-width="4.2"/>
<text x="245.3" y="2661" font-family='"DejaVu Sans", "Liberation Sans", sans-serif' font-size="27" font-weight="bold" fill="#000" text-anchor="middle" textLength="67.5" lengthAdjust="spacingAndGlyphs" stroke="#000" stroke-width="1.1">0.43</text>
<line x1="343.3" y1="1964.3" x2="343.3" y2="2067.6" stroke="#222" stroke-width="4.2"/>
<text x="343.3" y="2661" font-family='"DejaVu Sans", "Liberation Sans", sans-serif' font-size="27" font-weight="bold" fill="#000" text-anchor="middle" textLength="67.5" lengthAdjust="spacingAndGlyphs" stroke="#000" stroke-width="1.1">0.70</text>
<line x1="441.3" y1="1954.7" x2="441.3" y2="2027.4" stroke="#222" stroke-width="4.2"/>
<text x="441.3" y="2661" font-family='"DejaVu Sans", "Liberation Sans", sans-serif' font-size="27" font-weight="bold" fill="#000" text-anchor="middle" textLength="67.5" lengthAdjust="spacingAndGlyphs" stroke="#000" stroke-width="1.1">0.73</text>
<line x1="539.3" y1="1910" x2="539.3" y2="1970.6" stroke="#222" stroke-width="4.2"/>
<text x="505.5" y="2661" font-family='"DejaVu Sans", "Liberation Sans", sans-serif' font-size="27" font-weight="bold" fill="#000" stroke="#000" stroke-width="1.1" letter-spacing="0.6">0.7<tspan font-family='"Liberation Sans", sans-serif' font-size="31.5" font-weight="bold" letter-spacing="0.5" dx="-1.6" dy="-1.2" stroke="#000" stroke-width="0.9">9</tspan></text>
<line x1="637.3" y1="1917.7" x2="637.3" y2="1994.2" stroke="#222" stroke-width="4.2"/>
<text x="603.5" y="2661" font-family='"DejaVu Sans", "Liberation Sans", sans-serif' font-size="27" font-weight="bold" fill="#000" stroke="#000" stroke-width="1.1" letter-spacing="0.6">0.7<tspan font-family='"Liberation Sans", sans-serif' font-size="31.5" font-weight="bold" letter-spacing="0.5" dx="-1.6" dy="-1.2" stroke="#000" stroke-width="0.9">6</tspan></text>
<line x1="857.6" y1="2370.2" x2="857.6" y2="2663.5" stroke="#222" stroke-width="4.2"/>
<text x="857.6" y="2661" font-family='"DejaVu Sans", "Liberation Sans", sans-serif' font-size="27" font-weight="bold" fill="#000" text-anchor="middle" textLength="67.5" lengthAdjust="spacingAndGlyphs" stroke="#000" stroke-width="1.1">0.17</text>
<line x1="955.6" y1="2104.6" x2="955.6" y2="2585" stroke="#222" stroke-width="4.2"/>
<text x="955.6" y="2661" font-family='"DejaVu Sans", "Liberation Sans", sans-serif' font-size="27" font-weight="bold" fill="#000" text-anchor="middle" textLength="67.5" lengthAdjust="spacingAndGlyphs" stroke="#000" stroke-width="1.1">0.35</text>
<line x1="1053.6" y1="2093" x2="1053.6" y2="2297" stroke="#222" stroke-width="4.2"/>
<text x="1053.6" y="2661" font-family='"DejaVu Sans", "Liberation Sans", sans-serif' font-size="27" font-weight="bold" fill="#000" text-anchor="middle" textLength="67.5" lengthAdjust="spacingAndGlyphs" stroke="#000" stroke-width="1.1">0.51</text>
<line x1="1151.6" y1="2010" x2="1151.6" y2="2139.6" stroke="#222" stroke-width="4.2"/>
<text x="1117.8" y="2661" font-family='"DejaVu Sans", "Liberation Sans", sans-serif' font-size="27" font-weight="bold" fill="#000" stroke="#000" stroke-width="1.1" letter-spacing="0.6">0.6<tspan font-family='"Liberation Sans", sans-serif' font-size="31.5" font-weight="normal" letter-spacing="0.5" dx="-1.6" dy="-1.2" stroke="#000" stroke-width="1.3">0</tspan></text>
<line x1="1249.6" y1="2060" x2="1249.6" y2="2145.4" stroke="#222" stroke-width="4.2"/>
<text x="1215.8" y="2661" font-family='"DejaVu Sans", "Liberation Sans", sans-serif' font-size="27" font-weight="bold" fill="#000" stroke="#000" stroke-width="1.1" letter-spacing="0.6">0.<tspan font-family='"Liberation Sans", sans-serif' font-size="31.5" font-weight="bold" letter-spacing="0.5" dx="-1.6" dy="-1.2" stroke="#000" stroke-width="0.9">52</tspan></text>
<line x1="1470.2" y1="2312.8" x2="1470.2" y2="2423" stroke="#222" stroke-width="4.2"/>
<text x="1470.2" y="2661" font-family='"DejaVu Sans", "Liberation Sans", sans-serif' font-size="27" font-weight="bold" fill="#000" text-anchor="middle" textLength="67.5" lengthAdjust="spacingAndGlyphs" stroke="#000" stroke-width="1.1">0.33</text>
<line x1="1568.2" y1="2178" x2="1568.2" y2="2274.8" stroke="#222" stroke-width="4.2"/>
<text x="1568.2" y="2661" font-family='"DejaVu Sans", "Liberation Sans", sans-serif' font-size="27" font-weight="bold" fill="#000" text-anchor="middle" textLength="67.5" lengthAdjust="spacingAndGlyphs" stroke="#000" stroke-width="1.1">0.48</text>
<line x1="1666.2" y1="2109" x2="1666.2" y2="2237.9" stroke="#222" stroke-width="4.2"/>
<text x="1666.2" y="2661" font-family='"DejaVu Sans", "Liberation Sans", sans-serif' font-size="27" font-weight="bold" fill="#000" text-anchor="middle" textLength="67.5" lengthAdjust="spacingAndGlyphs" stroke="#000" stroke-width="1.1">0.54</text>
<line x1="1764.2" y1="2036.3" x2="1764.2" y2="2115.4" stroke="#222" stroke-width="4.2"/>
<text x="1764.2" y="2661" font-family='"DejaVu Sans", "Liberation Sans", sans-serif' font-size="27" font-weight="bold" fill="#000" text-anchor="middle" textLength="67.5" lengthAdjust="spacingAndGlyphs" stroke="#000" stroke-width="1.1">0.60</text>
<line x1="1862.2" y1="2080.3" x2="1862.2" y2="2117.3" stroke="#222" stroke-width="4.2"/>
<text x="1828.5" y="2661" font-family='"DejaVu Sans", "Liberation Sans", sans-serif' font-size="27" font-weight="bold" fill="#000" stroke="#000" stroke-width="1.1" letter-spacing="0.6">0.5<tspan font-family='"Liberation Sans", sans-serif' font-size="31.5" font-weight="bold" letter-spacing="0.5" dx="-1.6" dy="-1.2" stroke="#000" stroke-width="0.9">8</tspan></text>
<rect x="134.6" y="1874.5" width="1838.8000000000002" height="803.1999999999998" fill="none" stroke="#808080" stroke-width="2.8"/>
<line x1="133.6" y1="2677.7" x2="1974.4" y2="2677.7" stroke="#808080" stroke-width="3.4"/>
<line x1="126.1" y1="2678.0" x2="134.6" y2="2678.0" stroke="#444" stroke-width="2.6"/>
<text x="118.2" y="2688.7" font-family='"DejaVu Sans", "Liberation Sans", sans-serif' font-size="28.5" font-weight="normal" fill="#1e1e1e" text-anchor="end" textLength="43.6" lengthAdjust="spacingAndGlyphs" >0.0</text>
<line x1="126.1" y1="2583.9" x2="134.6" y2="2583.9" stroke="#444" stroke-width="2.6"/>
<text x="118.2" y="2594.6" font-family='"DejaVu Sans", "Liberation Sans", sans-serif' font-size="28.5" font-weight="normal" fill="#1e1e1e" text-anchor="end" textLength="43.6" lengthAdjust="spacingAndGlyphs" >0.1</text>
<line x1="126.1" y1="2489.9" x2="134.6" y2="2489.9" stroke="#444" stroke-width="2.6"/>
<text x="118.2" y="2500.6" font-family='"DejaVu Sans", "Liberation Sans", sans-serif' font-size="28.5" font-weight="normal" fill="#1e1e1e" text-anchor="end" textLength="43.6" lengthAdjust="spacingAndGlyphs" >0.2</text>
<line x1="126.1" y1="2395.8" x2="134.6" y2="2395.8" stroke="#444" stroke-width="2.6"/>
<text x="118.2" y="2406.5" font-family='"DejaVu Sans", "Liberation Sans", sans-serif' font-size="28.5" font-weight="normal" fill="#1e1e1e" text-anchor="end" textLength="43.6" lengthAdjust="spacingAndGlyphs" >0.3</text>
<line x1="126.1" y1="2301.7" x2="134.6" y2="2301.7" stroke="#444" stroke-width="2.6"/>
<text x="118.2" y="2312.4" font-family='"DejaVu Sans", "Liberation Sans", sans-serif' font-size="28.5" font-weight="normal" fill="#1e1e1e" text-anchor="end" textLength="43.6" lengthAdjust="spacingAndGlyphs" >0.4</text>
<line x1="126.1" y1="2207.7" x2="134.6" y2="2207.7" stroke="#444" stroke-width="2.6"/>
<text x="118.2" y="2218.3" font-family='"DejaVu Sans", "Liberation Sans", sans-serif' font-size="28.5" font-weight="normal" fill="#1e1e1e" text-anchor="end" textLength="43.6" lengthAdjust="spacingAndGlyphs" >0.5</text>
<line x1="126.1" y1="2113.6" x2="134.6" y2="2113.6" stroke="#444" stroke-width="2.6"/>
<text x="118.2" y="2124.3" font-family='"DejaVu Sans", "Liberation Sans", sans-serif' font-size="28.5" font-weight="normal" fill="#1e1e1e" text-anchor="end" textLength="43.6" lengthAdjust="spacingAndGlyphs" >0.6</text>
<line x1="126.1" y1="2019.5" x2="134.6" y2="2019.5" stroke="#444" stroke-width="2.6"/>
<text x="118.2" y="2030.2" font-family='"DejaVu Sans", "Liberation Sans", sans-serif' font-size="28.5" font-weight="normal" fill="#1e1e1e" text-anchor="end" textLength="43.6" lengthAdjust="spacingAndGlyphs" >0.7</text>
<line x1="126.1" y1="1925.4" x2="134.6" y2="1925.4" stroke="#444" stroke-width="2.6"/>
<text x="118.2" y="1936.1" font-family='"DejaVu Sans", "Liberation Sans", sans-serif' font-size="28.5" font-weight="normal" fill="#1e1e1e" text-anchor="end" textLength="43.6" lengthAdjust="spacingAndGlyphs" >0.8</text>
<text transform="translate(58,2276.5) rotate(-90)" font-family='"DejaVu Sans", "Liberation Sans", sans-serif' font-size="31" fill="#1e1e1e" text-anchor="middle" textLength="137" lengthAdjust="spacingAndGlyphs">F1 Score</text>
<line x1="441.3" y1="2677.7" x2="441.3" y2="2686.7" stroke="#444" stroke-width="2.6"/>
<text transform="translate(437.3,2711.2) rotate(-45)" font-family='"DejaVu Sans", "Liberation Sans", sans-serif' font-size="27" fill="#1e1e1e" text-anchor="end">govt critique</text>
<line x1="1053.6" y1="2677.7" x2="1053.6" y2="2686.7" stroke="#444" stroke-width="2.6"/>
<text transform="translate(1049.6,2711.2) rotate(-45)" font-family='"DejaVu Sans", "Liberation Sans", sans-serif' font-size="27" fill="#1e1e1e" text-anchor="end">neutral</text>
<line x1="1666.2" y1="2677.7" x2="1666.2" y2="2686.7" stroke="#444" stroke-width="2.6"/>
<text transform="translate(1662.2,2711.2) rotate(-45)" font-family='"DejaVu Sans", "Liberation Sans", sans-serif' font-size="27" fill="#1e1e1e" text-anchor="end">govt leaning</text>
<rect x="497.4" y="2891.8" width="1112.9" height="84.2" rx="5" ry="5" fill="#fff" stroke="#dcdcdc" stroke-width="2"/>
<text x="1053.5" y="2922.6" font-family='"DejaVu Sans", "Liberation Sans", sans-serif' font-size="28" font-weight="normal" fill="#1e1e1e" text-anchor="middle" textLength="216" lengthAdjust="spacingAndGlyphs" >Model Category</text>
<rect x="508.3" y="2942.9" width="50" height="17.2" fill="#aec3f0" stroke="none"/>
<text x="579" y="2961.2" font-family='"DejaVu Sans", "Liberation Sans", sans-serif' font-size="27" font-weight="normal" fill="#1e1e1e" text-anchor="start" textLength="65" lengthAdjust="spacingAndGlyphs" >Nano</text>
<rect x="695" y="2942.9" width="50" height="17.2" fill="#f3bcab" stroke="none"/>
<text x="766.6" y="2961.2" font-family='"DejaVu Sans", "Liberation Sans", sans-serif' font-size="27" font-weight="normal" fill="#1e1e1e" text-anchor="start" textLength="112.2" lengthAdjust="spacingAndGlyphs" >Compact</text>
<rect x="929.8" y="2942.9" width="50" height="17.2" fill="#abdba6" stroke="none"/>
<text x="1001" y="2961.2" font-family='"DejaVu Sans", "Liberation Sans", sans-serif' font-size="27" font-weight="normal" fill="#1e1e1e" text-anchor="start" textLength="113.8" lengthAdjust="spacingAndGlyphs" >Standard</text>
<rect x="1165.8" y="2942.9" width="50" height="17.2" fill="#edadab" stroke="none"/>
<text x="1237.9" y="2961.2" font-family='"DejaVu Sans", "Liberation Sans", sans-serif' font-size="27" font-weight="normal" fill="#1e1e1e" text-anchor="start" textLength="98.8" lengthAdjust="spacingAndGlyphs" >Massive</text>
<rect x="1389" y="2942.9" width="50" height="17.2" fill="#cfbbd6" stroke="none"/>
<text x="1460.5" y="2961.2" font-family='"DejaVu Sans", "Liberation Sans", sans-serif' font-size="27" font-weight="normal" fill="#1e1e1e" text-anchor="start" textLength="139" lengthAdjust="spacingAndGlyphs" >Proprietary</text>
</g>
</g>
</svg>
</body></html>
